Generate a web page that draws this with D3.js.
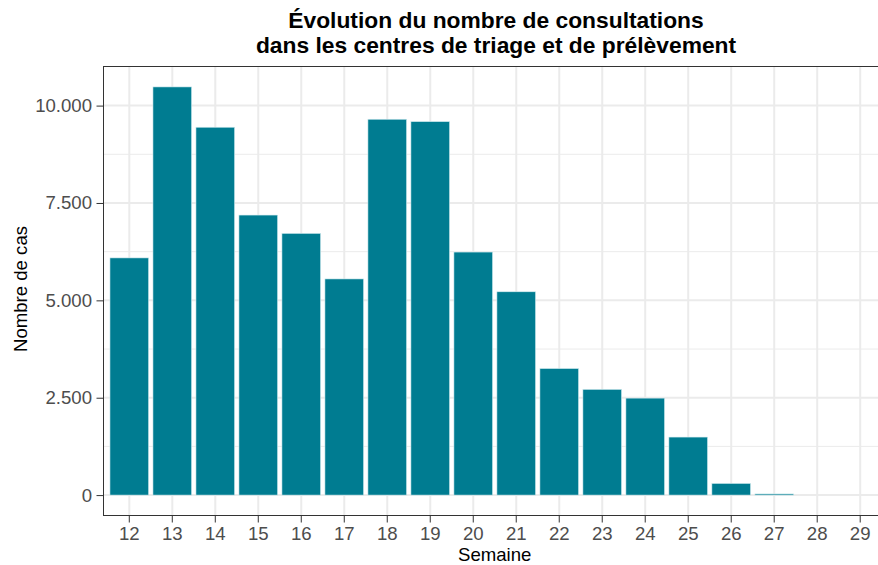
<!DOCTYPE html>
<html>
<head>
<meta charset="utf-8">
<script src="https://cdn.jsdelivr.net/npm/d3@7"></script>
<style>
  html, body { margin: 0; padding: 0; background: #fff; }
  svg { display: block; font-family: "Liberation Sans", Arial, sans-serif; }
</style>
</head>
<body>
<svg id="chart" width="878" height="565"></svg>
<script>
const weeks = ["12","13","14","15","16","17","18","19","20","21","22","23","24","25","26","27","28","29"];
const cases = [6090, 10480, 9445, 7190, 6720, 5550, 9650, 9590, 6240, 5220, 3250, 2715, 2490, 1490, 300, 30, 0, 0];
const yTicks = [0, 2500, 5000, 7500, 10000];
const yMinor = [1250, 3750, 6250, 8750];
const titleLines = ["Évolution du nombre de consultations", "dans les centres de triage et de prélèvement"];
const xTitle = "Semaine";
const yTitle = "Nombre de cas";

(function () {
const svg = d3.select("#chart");
const pL = 103.5, pR = 886, pT = 66.5, pB = 515.5;
const fs = "18.6px";

const maxV = d3.max(cases);
const pad = maxV * 0.05;
const y = d3.scaleLinear().domain([-pad, maxV + pad]).range([pB, pT]);
const x = d3.scaleBand().domain(weeks).range([pL, pR]).paddingInner(0.1).paddingOuter(0.15);
const cx = d => x(d) + x.bandwidth() / 2;

const fmt = v => d3.format(",")(v).replace(/,/g, ".");

// minor gridlines
svg.append("g").selectAll("line").data(yMinor).join("line")
  .attr("x1", pL).attr("x2", pR).attr("y1", d => y(d)).attr("y2", d => y(d))
  .attr("stroke", "#EBEBEB").attr("stroke-width", 1);
// major gridlines
svg.append("g").selectAll("line").data(yTicks).join("line")
  .attr("x1", pL).attr("x2", pR).attr("y1", d => y(d)).attr("y2", d => y(d))
  .attr("stroke", "#EBEBEB").attr("stroke-width", 2);
svg.append("g").selectAll("line").data(weeks).join("line")
  .attr("x1", d => cx(d)).attr("x2", d => cx(d)).attr("y1", pT).attr("y2", pB)
  .attr("stroke", "#EBEBEB").attr("stroke-width", 2);

// bars
svg.append("g").selectAll("rect").data(weeks).join("rect")
  .attr("x", d => x(d))
  .attr("width", x.bandwidth())
  .attr("y", (d, i) => y(cases[i]))
  .attr("height", (d, i) => Math.max(0, y(0) - y(cases[i])))
  .attr("fill", "#007C91")
  .attr("stroke", "#d8eef2").attr("stroke-width", 0.6);

// panel border
svg.append("rect").attr("x", pL).attr("y", pT).attr("width", pR - pL).attr("height", pB - pT)
  .attr("fill", "none").attr("stroke", "#333333").attr("stroke-width", 1);

// y axis
const yAxis = d3.axisLeft(y).tickValues(yTicks).tickSize(7).tickPadding(4.5).tickFormat(fmt);
const gy = svg.append("g").attr("transform", `translate(${pL},0)`).call(yAxis);
gy.select(".domain").remove();
gy.selectAll(".tick line").attr("stroke", "#333333").attr("stroke-width", 1);
gy.selectAll(".tick text").attr("fill", "#4D4D4D").style("font-size", fs).style("font-family", "Liberation Sans, Arial, sans-serif");

// x axis
const xAxis = d3.axisBottom(x).tickSize(7).tickPadding(4);
const gx = svg.append("g").attr("transform", `translate(0,${pB})`).call(xAxis);
gx.select(".domain").remove();
gx.selectAll(".tick line").attr("stroke", "#333333").attr("stroke-width", 1);
gx.selectAll(".tick text").attr("fill", "#4D4D4D").style("font-size", fs).style("font-family", "Liberation Sans, Arial, sans-serif");

// axis titles
svg.append("text").attr("x", (pL + pR) / 2).attr("y", 560.5).attr("text-anchor", "middle")
  .style("font-size", fs).attr("fill", "#000").text(xTitle);
svg.append("text").attr("transform", `translate(27,289) rotate(-90)`).attr("text-anchor", "middle")
  .style("font-size", fs).attr("fill", "#000").text(yTitle);

// title
svg.append("g").selectAll("text").data(titleLines).join("text")
  .attr("x", 496).attr("y", (d, i) => 28.3 + i * 25)
  .attr("text-anchor", "middle").style("font-size", "22.8px").style("font-weight", "bold")
  .attr("fill", "#000").text(d => d);
})();
</script>
</body>
</html>
